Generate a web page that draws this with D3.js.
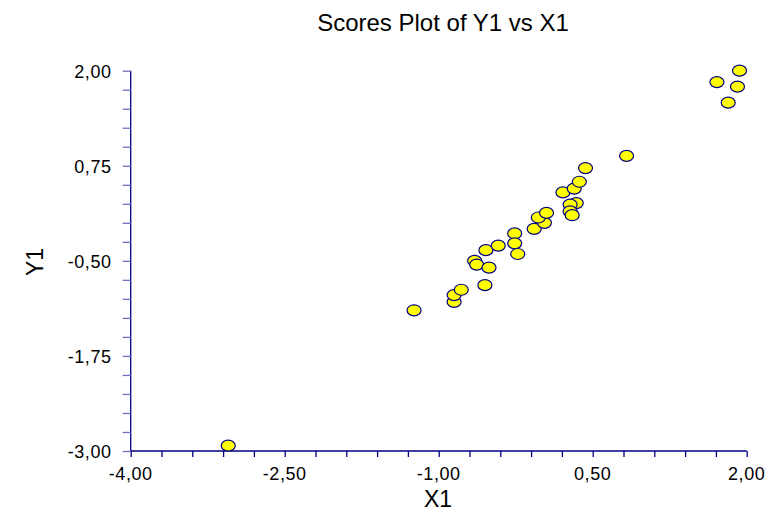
<!DOCTYPE html>
<html>
<head>
<meta charset="utf-8">
<script src="https://cdn.jsdelivr.net/npm/d3@7"></script>
<style>
  body { margin: 0; background: #fff; }
  text { font-family: "Liberation Sans", Arial, sans-serif; fill: #000; }
</style>
</head>
<body>
<div id="chart"></div>
<script>
// scores
var x1 = [-3.05, -1.24, -0.85, -0.85, -0.78, -0.55, -0.65, -0.63, -0.51, -0.54,
          -0.42, -0.26, -0.26, -0.23, -0.07, 0.03, -0.03, 0.05, 0.21, 0.32,
          0.37, 0.43, 0.34, 0.28, 0.28, 0.30, 0.83, 1.71, 1.93, 1.91, 1.82];
var y1 = [-2.93, -1.15, -1.04, -0.95, -0.88, -0.82, -0.50, -0.55, -0.59, -0.36,
          -0.30, -0.14, -0.27, -0.41, -0.08, 0.00, 0.07, 0.13, 0.40, 0.45,
          0.54, 0.72, 0.26, 0.24, 0.15, 0.10, 0.88, 1.85, 2.00, 1.79, 1.58];
var xLabels = [-4, -2.5, -1, 0.5, 2];
var yLabels = [-3, -1.75, -0.5, 0.75, 2];

var width = 768, height = 514;
var pLeft = 130.7, pRight = 746.7, pTop = 70.7, pBottom = 451;

var loc = d3.formatLocale({decimal: ",", thousands: ".", grouping: [3], currency: ["", ""], minus: "-"});
var fmt = loc.format(".2f");

var svg = d3.select("#chart").append("svg")
    .attr("width", width)
    .attr("height", height);

var x = d3.scaleLinear().domain([-4, 2]).range([pLeft, pRight]);
var y = d3.scaleLinear().domain([-3, 2]).range([pBottom, pTop]);

// minor ticks every 0.3 / 0.25
var xTicks = d3.range(0, 21).map(function(i) { return -4 + i * 0.3; });
var yTicks = d3.range(0, 21).map(function(i) { return -3 + i * 0.25; });

var xAxis = svg.append("g")
    .attr("transform", "translate(0," + pBottom + ")")
    .call(d3.axisBottom(x).tickValues(xTicks).tickSize(6).tickFormat(""));
xAxis.selectAll("line").attr("stroke", "#000080").attr("stroke-width", 1.3);
xAxis.select(".domain").attr("stroke", "#000080").attr("stroke-width", 1.3).attr("d", "M" + pLeft + ",0H" + pRight);

var yAxis = svg.append("g")
    .attr("transform", "translate(" + pLeft + ",0)")
    .call(d3.axisLeft(y).tickValues(yTicks).tickSize(8).tickFormat(""));
yAxis.selectAll("line").attr("stroke", "#7070c0").attr("stroke-width", 1.3);
yAxis.select(".domain").attr("stroke", "#000080").attr("stroke-width", 1.3).attr("d", "M0," + pTop + "V" + pBottom);

svg.selectAll(".xlab").data(xLabels).enter().append("text")
    .attr("x", function(d) { return x(d); })
    .attr("y", pBottom + 29)
    .attr("text-anchor", "middle")
    .style("font-size", "18px")
    .style("letter-spacing", "0.6px")
    .text(function(d) { return fmt(d); });

svg.selectAll(".ylab").data(yLabels).enter().append("text")
    .attr("x", pLeft - 19)
    .attr("y", function(d) { return y(d) + 7; })
    .attr("text-anchor", "end")
    .style("font-size", "18px")
    .style("letter-spacing", "0.6px")
    .text(function(d) { return fmt(d); });

svg.append("text")
    .attr("x", 443).attr("y", 31)
    .attr("text-anchor", "middle")
    .style("font-size", "24px")
    .text("Scores Plot of Y1 vs X1");

svg.append("text")
    .attr("x", 438).attr("y", 507)
    .attr("text-anchor", "middle")
    .style("font-size", "23px")
    .text("X1");

svg.append("text")
    .attr("transform", "translate(43,262) rotate(-90)")
    .attr("text-anchor", "middle")
    .style("font-size", "23px")
    .text("Y1");

var pts = x1.map(function(d, i) { return {x: d, y: y1[i]}; });
svg.selectAll(".pt").data(pts).enter().append("ellipse")
    .attr("cx", function(d) { return x(d.x); })
    .attr("cy", function(d) { return y(d.y); })
    .attr("rx", 7)
    .attr("ry", 5.5)
    .attr("fill", "#ffff00")
    .attr("stroke", "#000080")
    .attr("stroke-width", 1.2);
</script>
</body>
</html>
